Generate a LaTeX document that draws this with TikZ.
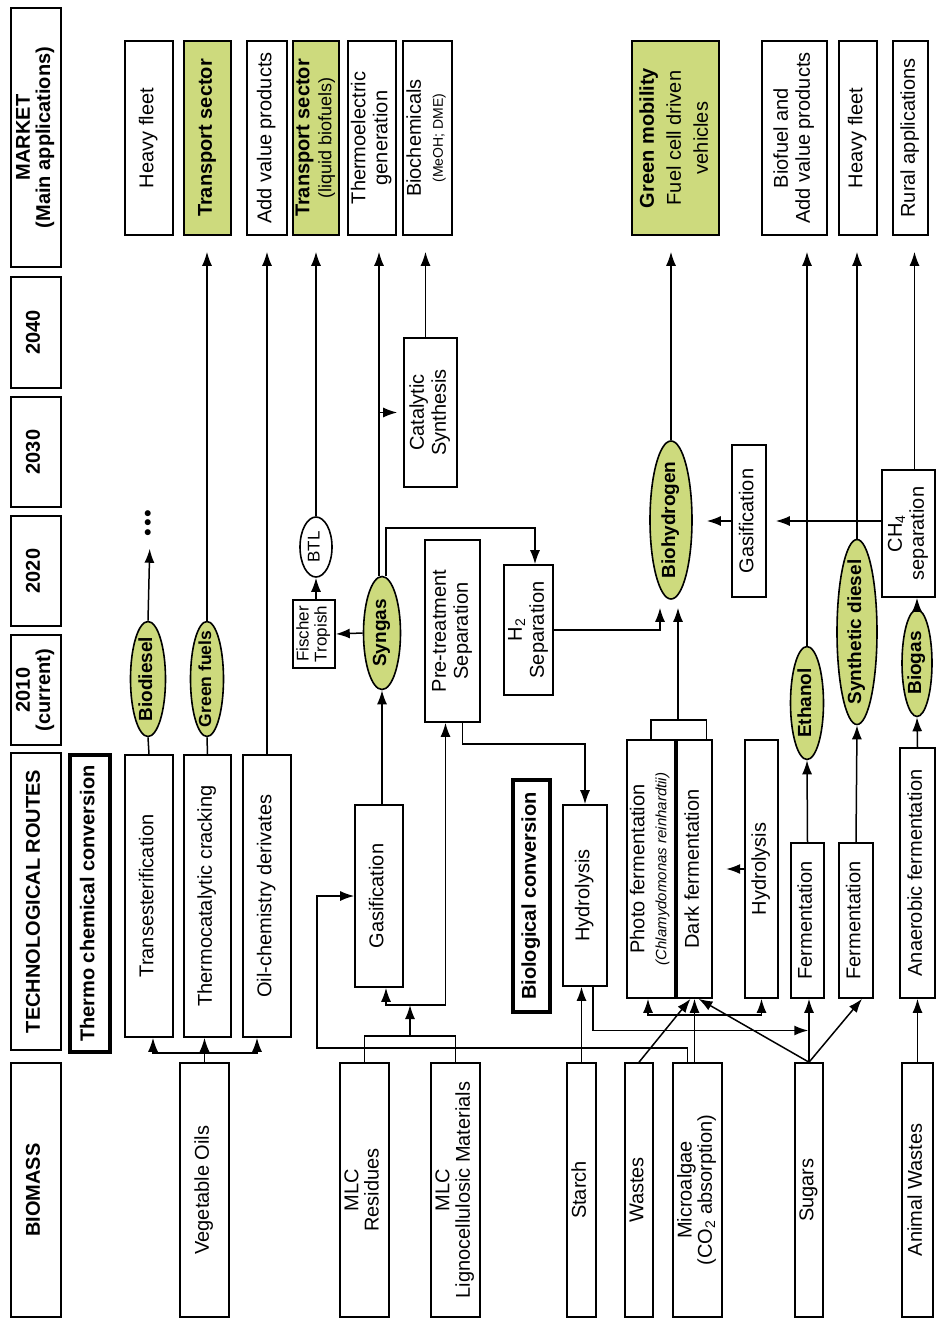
\documentclass[tikz,border=0pt]{standalone}
\usepackage{fontspec}
\setmainfont{Liberation Sans}
\usepackage{tikz}
\usetikzlibrary{shapes.geometric,arrows.meta,calc}
\definecolor{fuelgreen}{RGB}{205,218,125}
\newcommand{\rt}[1]{\rotatebox{90}{\begin{tabular}{@{}c@{}}#1\end{tabular}}}

\begin{document}
\begin{tikzpicture}[x=1pt, y=-1pt,
        box/.style={draw, line width=1.6pt, inner sep=0pt, font=\fontsize{20}{22}\selectfont},
        hdr/.style={box, font=\bfseries\fontsize{20}{20}\selectfont},
        grp/.style={box, line width=3.5pt, font=\bfseries\fontsize{20}{22}\selectfont},
        greenbox/.style={box, fill=fuelgreen},
        fuel/.style={ellipse, draw, line width=1.6pt, fill=fuelgreen, inner sep=0pt},
        fuellbl/.style={font=\bfseries\fontsize{19}{21}\selectfont, inner sep=0pt},
        ln/.style={line width=1.5pt},
        arr/.style={ln, -{Latex[length=14pt,width=10pt]}},
        tomkt/.style={arr, shorten >=16pt}]
        \useasboundingbox (0,0) rectangle (937,1320);
        % header row
        \node[hdr, minimum width=50, minimum height=259] (hmarket) at (36,137.5) {\rt{MARKET\\(Main applications)}};
        \node[hdr, minimum width=50, minimum height=111] (h2040) at (36,332.5) {\rt{2040}};
        \node[hdr, minimum width=50, minimum height=110] (h2030) at (36,452) {\rt{2030}};
        \node[hdr, minimum width=50, minimum height=110] (h2020) at (36,571) {\rt{2020}};
        \node[hdr, minimum width=50, minimum height=110] (h2010) at (36,690) {\rt{2010\\(current)}};
        \node[hdr, minimum width=50, minimum height=297] (hroutes) at (36,901.5) {\rt{TECHNOLOGICAL ROUTES}};
        \node[hdr, minimum width=50, minimum height=254] (hbiomass) at (36,1190) {\rt{BIOMASS}};
        % market
        \node[box, minimum width=48, minimum height=194] (mheavyA) at (149,138) {\rt{Heavy fleet}};
        \node[greenbox, minimum width=47, minimum height=194] (mtransA) at (207.5,138) {\rt{\textbf{Transport sector}}};
        \node[box, minimum width=40, minimum height=194] (maddval) at (267,138) {\rt{Add value products}};
        \node[greenbox, minimum width=46, minimum height=194] (mtransB) at (316,138) {\rt{\textbf{Transport sector}\\{\fontsize{18}{20}\selectfont(liquid biofuels)}}};
        \node[box, minimum width=48, minimum height=194] (mthermo) at (372,138) {\rt{Thermoelectric\\generation}};
        \node[box, minimum width=49, minimum height=194] (mbiochem) at (427.5,138) {\rt{Biochemicals\\{\fontsize{14}{16}\selectfont(MeOH; DME)}}};
        \node[greenbox, minimum width=87, minimum height=194, font=\fontsize{20}{27}\selectfont] (mgreen) at (675.5,138) {\rt{\textbf{Green mobility}\\Fuel cell driven\\vehicles}};
        \node[box, minimum width=65, minimum height=194] (mbiofuel) at (794.5,138) {\rt{Biofuel and\\Add value products}};
        \node[box, minimum width=38, minimum height=194] (mheavyB) at (858,138) {\rt{Heavy fleet}};
        \node[box, minimum width=35, minimum height=194] (mrural) at (910.5,138) {\rt{Rural applications}};
        % thermo chemical routes
        \node[grp, minimum width=40, minimum height=297] (thermo) at (90,903.5) {\rt{Thermo chemical conversion}};
        \node[box, minimum width=48, minimum height=282] (trans) at (149,896) {\rt{Transesterification}};
        \node[box, minimum width=47, minimum height=282] (crack) at (207.5,896) {\rt{Thermocatalytic cracking}};
        \node[box, minimum width=48, minimum height=282] (oilchem) at (267,896) {\rt{Oil-chemistry derivates}};
        \node[box, minimum width=48, minimum height=182] (gasifA) at (379,896) {\rt{Gasification}};
        \node[box, minimum width=55, minimum height=182] (pretreat) at (452.5,631) {\rt{Pre-treatment\\Separation}};
        \node[box, minimum width=42, minimum height=68, font=\fontsize{17}{18}\selectfont] (fischer) at (314,634) {\rt{Fischer\\Tropish}};
        \node[box, ellipse, minimum width=32, minimum height=60, font=\fontsize{17}{18}\selectfont] (btl) at (316,547) {\rt{BTL}};
        \node[box, minimum width=53, minimum height=149] (catsyn) at (430.5,412.5) {\rt{Catalytic\\Synthesis}};
        \node[box, minimum width=49, minimum height=130] (htwosep) at (528.5,630) {\rt{H\textsubscript{2}\\Separation}};
        % biological routes
        \node[grp, minimum width=37, minimum height=232] (bioconv) at (531.5,896) {\rt{Biological conversion}};
        \node[box, minimum width=44, minimum height=181] (hydroA) at (585,895.5) {\rt{Hydrolysis}};
        \node[box, minimum width=48, minimum height=258] (photo) at (651,869) {\rt{Photo fermentation\\{\fontsize{15}{16}\selectfont\itshape(Chlamydomonas reinhardtii)}}};
        \node[box, minimum width=35, minimum height=258] (dark) at (694.5,869) {\rt{Dark fermentation}};
        \node[box, minimum width=33, minimum height=258] (hydroB) at (761.5,869) {\rt{Hydrolysis}};
        \node[box, minimum width=33, minimum height=155] (fermA) at (807.5,920.5) {\rt{Fermentation}};
        \node[box, minimum width=34, minimum height=155] (fermB) at (856,920.5) {\rt{Fermentation}};
        \node[box, minimum width=35, minimum height=250] (anaer) at (917.5,873) {\rt{Anaerobic fermentation}};
        \node[box, minimum width=34, minimum height=152] (gasifB) at (749,521) {\rt{Gasification}};
        \node[box, minimum width=53, minimum height=127] (chfoursep) at (908.5,533.5) {\rt{CH\textsubscript{4}\\separation}};
        % products
        \node[fuel, minimum width=35, minimum height=115, label={[fuellbl]center:\rt{Biodiesel}}] (biodiesel) at (148,679) {};
        \node[fuel, minimum width=33, minimum height=115, label={[fuellbl, font=\bfseries\fontsize{17.5}{20}\selectfont]center:\rt{Green fuels}}] (greenfuels) at (207,679) {};
        \node[fuel, minimum width=37, minimum height=113, label={[fuellbl]center:\rt{Syngas}}] (syngas) at (382,633) {};
        \node[fuel, minimum width=42, minimum height=158, label={[fuellbl]center:\rt{Biohydrogen}}] (biohydrogen) at (671,520) {};
        \node[fuel, minimum width=33, minimum height=113, label={[fuellbl]center:\rt{Ethanol}}] (ethanol) at (807,703) {};
        \node[fuel, minimum width=40, minimum height=185, label={[fuellbl]center:\rt{Synthetic diesel}}] (syndiesel) at (857,632) {};
        \node[fuel, minimum width=30, minimum height=107, label={[fuellbl]center:\rt{Biogas}}] (biogas) at (917,663) {};
        \node[inner sep=0pt, font=\fontsize{22}{22}\selectfont] (dots) at (150,523) {\rotatebox{90}{\textbullet\hspace{2pt}\textbullet\hspace{2pt}\textbullet}};
        % biomass
        \node[box, minimum width=49, minimum height=254] (vegoil) at (204.5,1190) {\rt{Vegetable Oils}};
        \node[box, minimum width=49, minimum height=254, font=\fontsize{20}{20}\selectfont] (mlcres) at (364.5,1190) {\rt{MLC\\Residues}};
        \node[box, minimum width=49, minimum height=254, font=\fontsize{20}{20}\selectfont] (mlclig) at (455.5,1190) {\rt{MLC\\Lignocellulosic Materials}};
        \node[box, minimum width=29, minimum height=254] (starch) at (581.5,1190) {\rt{Starch}};
        \node[box, minimum width=28, minimum height=254] (wastes) at (639,1190) {\rt{Wastes}};
        \node[box, minimum width=49, minimum height=254, font=\fontsize{20}{20}\selectfont] (microalgae) at (697.5,1190) {\rt{Microalgae\\(CO\textsubscript{2} absorption)}};
        \node[box, minimum width=28, minimum height=254] (sugars) at (809,1190) {\rt{Sugars}};
        \node[box, minimum width=31, minimum height=254] (animal) at (917.5,1190) {\rt{Animal Wastes}};
        % connectors
        \coordinate (vj) at (vegoil.north |- 0,1053);
        \draw[ln] (vegoil.north) -- (vj);
        \draw[arr] (vj) -| ([xshift=4pt]trans.south);
        \draw[arr] (vj) -- (vj |- crack.south);
        \draw[arr] (vj) -| ([xshift=-10pt]oilchem.south);
        \draw[ln] (trans.north) -- (biodiesel.south);
        \draw[arr, shorten >=12pt] (biodiesel.north) -- (dots.south);
        \draw[ln] (crack.north) -- (greenfuels.south);
        \draw[tomkt] (greenfuels.north) -- (greenfuels.north |- mtransA.south);
        \draw[tomkt] (oilchem.north) -- (oilchem.north |- maddval.south);
        \coordinate (mj) at (410,1036);
        \coordinate (gj) at (410,1005);
        \draw[ln] (mlcres.north) |- (mj) -| (mlclig.north);
        \draw[arr] (mj) -- (gj);
        \draw[arr] (gj) -| ([xshift=7pt]gasifA.south);
        \draw[arr] (gj) -| ([xshift=-7pt]pretreat.south);
        \coordinate (mloop) at (317,1048);
        \draw[arr] ([xshift=-10pt]microalgae.north) |- (mloop) |- (gasifA.west);
        \draw[arr] (syngas.south |- gasifA.north) -- (syngas.south);
        \draw[arr] (syngas.west) -- (fischer.east);
        \draw[arr] (btl.south |- fischer.north) -- (btl.south);
        \draw[tomkt] (btl.north) -- (btl.north |- mtransB.south);
        \draw[tomkt] ([xshift=-3pt]syngas.north) -- ([xshift=-3pt]syngas.north |- mthermo.south);
        \draw[arr, shorten >=6pt] ([xshift=-3pt]syngas.north |- catsyn.west) -- (catsyn.west);
        \draw[tomkt] ([xshift=-5pt]catsyn.north) -- ([xshift=-5pt]catsyn.north |- mbiochem.south);
        \coordinate (sh) at (535,528);
        \draw[arr] ([xshift=4pt]syngas.north) |- (sh) -- (sh |- htwosep.north);
        \draw[arr] (htwosep.east) -| ([xshift=-11pt,yshift=-8pt]biohydrogen.south);
        \coordinate (pj) at (678,720);
        \draw[ln] (photo.north) |- (pj) -| ([xshift=12pt]dark.north);
        \draw[arr, shorten >=8pt] (pj) -- (pj |- biohydrogen.south);
        \draw[tomkt] (biohydrogen.north) -- (biohydrogen.north |- mgreen.south);
        \draw[arr] ([xshift=10pt]pretreat.south) |- ([yshift=60pt]hydroA.north) -- (hydroA.north);
        \draw[arr] (starch.north) -- (starch.north |- hydroA.south);
        \draw[arr] ([xshift=8pt]hydroA.south) |- ($(fermA.south)!0.5!(sugars.north)$);
        \draw[arr] (dark.south |- microalgae.north) -- (dark.south);
        \coordinate (aj) at (dark.south |- 0,1015);
        \draw[arr] (aj) -| ([xshift=-3pt]photo.south);
        \draw[arr] (aj) -| (hydroB.south);
        \draw[arr] (wastes.north) -- ([xshift=-4pt]dark.south);
        \draw[arr] (sugars.north) -- ([xshift=4pt]dark.south);
        \draw[arr] (sugars.north) -- (sugars.north |- fermA.south);
        \draw[arr] (sugars.north) -- ([xshift=6pt]fermB.south);
        \draw[arr] (hydroB.west) -- ++(-18,0);
        \draw[arr] (fermA.north) -- (ethanol.south);
        \draw[tomkt] (ethanol.north) -- (ethanol.north |- mbiofuel.south);
        \draw[arr] (fermB.north) -- (syndiesel.south);
        \draw[tomkt] (syndiesel.north) -- (syndiesel.north |- mheavyB.south);
        \draw[arr] (animal.north) -- (animal.north |- anaer.south);
        \draw[arr] (anaer.north) -- (biogas.south);
        \draw[arr] (biogas.north) -- (biogas.north |- chfoursep.south);
        \draw[tomkt] ([xshift=6pt]chfoursep.north) -- ([xshift=6pt]chfoursep.north |- mrural.south);
        \draw[arr, shorten >=9pt] (chfoursep.west |- gasifB.east) -- (gasifB.east);
        \draw[arr, shorten >=14pt] (gasifB.west) -- (gasifB.west -| biohydrogen.east);
    \end{tikzpicture}
\end{document}
